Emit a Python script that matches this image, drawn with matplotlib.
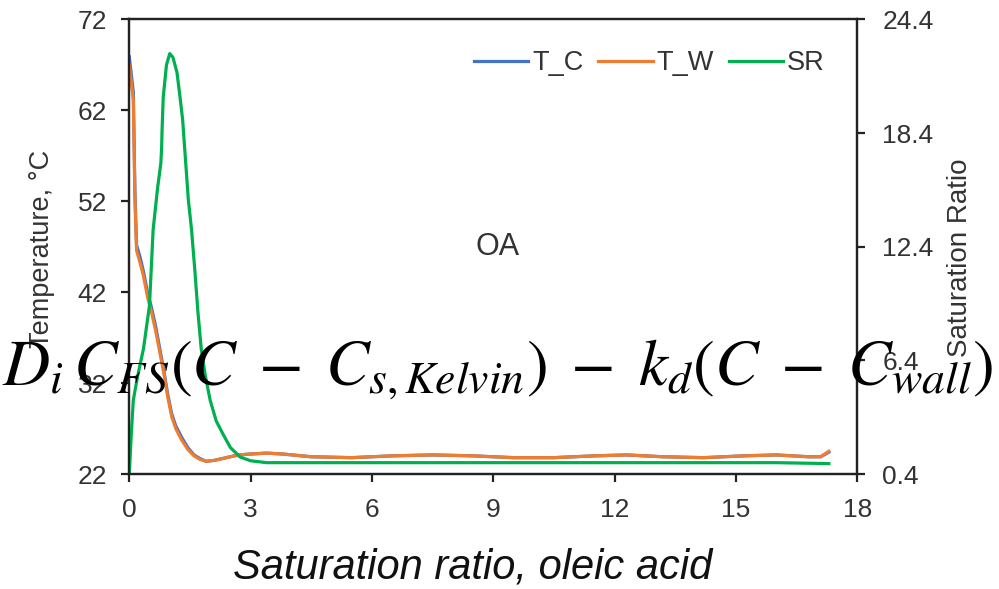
import matplotlib
matplotlib.use("Agg")
import matplotlib.pyplot as plt

plt.rcParams['font.family'] = ['Liberation Sans', 'DejaVu Sans']
plt.rcParams['mathtext.fontset'] = 'stix'

# Saturation ratio of oleic acid (x) with wall / core temperature and SR
x_tw = [0.00, 0.05, 0.10, 0.14, 0.18, 0.27, 0.35, 0.45, 0.55, 0.65, 0.75, 0.85,
        0.95, 1.05, 1.15, 1.30, 1.45, 1.60, 1.75, 1.90, 2.10, 2.40, 2.70, 3.00,
        3.40, 3.80, 4.50, 5.50, 6.50, 7.50, 8.50, 9.50, 10.50, 11.50, 12.30,
        13.20, 14.20, 15.20, 16.00, 16.80, 17.10, 17.30]
t_w = [67.0, 65.0, 63.2, 52.2, 46.6, 45.2, 43.8, 41.5, 39.8, 37.8, 35.5, 33.2,
       30.5, 28.3, 27.0, 25.7, 24.7, 24.0, 23.6, 23.4, 23.5, 23.8, 24.1, 24.2,
       24.3, 24.2, 23.9, 23.8, 24.0, 24.1, 24.0, 23.8, 23.8, 24.0, 24.1,
       23.9, 23.8, 24.0, 24.1, 23.9, 23.9, 24.5]

x_tc = [0.00, 0.05, 0.10, 0.14, 0.18, 0.27, 0.35, 0.45, 0.55, 0.65, 0.75, 0.85,
        0.95, 1.05, 1.15, 1.30, 1.45, 1.60, 1.75, 1.90, 2.10, 2.40, 2.70, 3.00,
        3.40, 3.80, 4.50, 5.50, 6.50, 7.50, 8.50, 9.50, 10.50, 11.50, 12.30,
        13.20, 14.20, 15.20, 16.00, 16.80, 17.10, 17.30]
t_c = [67.9, 66.0, 64.0, 53.0, 47.2, 45.8, 44.3, 42.0, 40.3, 38.3, 35.9, 33.5,
       30.8, 28.6, 27.3, 26.0, 24.9, 24.1, 23.7, 23.4, 23.5, 23.8, 24.1, 24.2,
       24.3, 24.2, 23.9, 23.8, 24.0, 24.1, 24.0, 23.8, 23.8, 24.0, 24.1,
       23.9, 23.8, 24.0, 24.1, 23.9, 23.9, 24.4]

x_sr = [0.00, 0.05, 0.10, 0.20, 0.35, 0.50, 0.59, 0.70, 0.78, 0.80, 0.81, 0.84,
        0.92, 1.00, 1.08, 1.18, 1.25, 1.32, 1.46, 1.54, 1.62, 1.70, 1.78, 1.88,
        2.00, 2.15, 2.32, 2.50, 2.74, 3.00, 3.40, 4.50, 6.00, 8.00, 10.00,
        12.00, 14.00, 16.00, 17.30]
sr = [0.4, 2.5, 4.3, 5.5, 7.0, 9.3, 13.3, 15.5, 16.8, 17.6, 18.5, 20.3,
      22.0, 22.6, 22.4, 21.6, 20.4, 19.1, 14.9, 13.3, 11.2, 8.9, 7.0, 5.6,
      4.3, 3.2, 2.5, 1.8, 1.3, 1.1, 1.0, 1.0, 1.0, 1.0, 1.0,
      1.0, 1.0, 1.0, 0.95]

x_ticks = [0, 3, 6, 9, 12, 15, 18]
temp_ticks = [22, 32, 42, 52, 62, 72]
sr_ticks = [0.4, 6.4, 12.4, 18.4, 24.4]

C_BLUE = '#4472C4'
C_ORANGE = '#ED7D31'
C_GREEN = '#00B050'
AX_COL = '#222222'
TXT_COL = '#333333'

fig = plt.figure(figsize=(9.99, 5.89), dpi=100)
ax = fig.add_axes([0.1294, 0.1952, 0.8580 - 0.1294, 0.9669 - 0.1952])
ax2 = ax.twinx()

l1, = ax.plot(x_tc, t_c, color=C_BLUE, lw=2.3, label='T_C')
l2, = ax.plot(x_tw, t_w, color=C_ORANGE, lw=2.3, label='T_W')
l3, = ax2.plot(x_sr, sr, color=C_GREEN, lw=2.3, label='SR')

ax.set_xlim(0, 18)
ax.set_ylim(22, 72)
ax2.set_ylim(0.4, 24.4)
ax.set_xticks(x_ticks)
ax.set_yticks(temp_ticks)
ax2.set_yticks(sr_ticks)
ax2.set_yticklabels([f'{v:.1f}' for v in sr_ticks])

for a in (ax, ax2):
    for s in a.spines.values():
        s.set_linewidth(1.6)
        s.set_color(AX_COL)
    a.tick_params(direction='out', length=6, width=1.6, color=AX_COL,
                  labelsize=19, labelcolor=TXT_COL)
ax.tick_params(axis='y', pad=10)
ax.tick_params(axis='x', pad=11)
ax2.tick_params(axis='y', pad=12)

# axis titles placed in figure coordinates
fig.text(41.7 / 999, 1 - 249 / 589, 'Temperature, °C', rotation=90,
         ha='center', va='center', fontsize=19.5, color=TXT_COL)
fig.text(960 / 999, 1 - 258 / 589, 'Saturation Ratio', rotation=90,
         ha='center', va='center', fontsize=20, color=TXT_COL)
fig.text(473 / 999, 1 - 567 / 589, 'Saturation ratio, oleic acid',
         ha='center', va='center', fontsize=30, style='italic', color='#111111')

ax.text(9.1, 47.0, 'OA', ha='center', va='center', fontsize=22, color=TXT_COL)

fig.legend(handles=[l1, l2, l3], loc='center left',
           bbox_to_anchor=(474 / 999, 1 - 63.5 / 589), ncol=3, frameon=False,
           fontsize=19.5, handlelength=2.0, handletextpad=0.15,
           columnspacing=0.55, borderpad=0, borderaxespad=0,
           labelcolor=TXT_COL)

fig.text(0.002, 1 - 385 / 589,
         r'$D_i\,C_{FS}\left(C\;-\;C_{s,Kelvin}\right)\;-\;k_d\left(C\;-\;C_{wall}\right)$',
         ha='left', va='baseline', fontsize=47, color='black')

fig.savefig('out.png', dpi=100)
